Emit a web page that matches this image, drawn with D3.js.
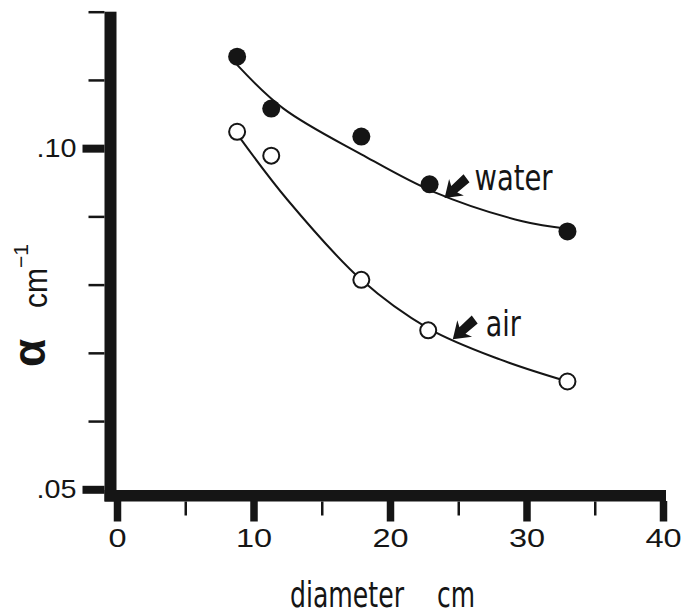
<!DOCTYPE html>
<html>
<head>
<meta charset="utf-8">
<script src="https://cdn.jsdelivr.net/npm/d3@7"></script>
<style>
  html, body { margin: 0; padding: 0; background: #fff; }
  svg { display: block; }
</style>
</head>
<body>
<svg id="chart" width="698" height="614"></svg>
<script>
// ---- data ----
const xTicksMajor = [0, 10, 20, 30, 40];
const xTicksMinor = [5, 15, 25, 35];
const yTicksMajor = [0.05, 0.10];
const yTicksMinor = [0.06, 0.07, 0.08, 0.09, 0.11, 0.12];
const yTickLabels = [".05", ".10"];

const waterDiam  = [8.8, 11.3, 17.9, 22.9, 33.0];
const waterAlpha = [0.1134, 0.1058, 0.1017, 0.0947, 0.0878];
const airDiam    = [8.8, 11.3, 17.9, 22.8, 33.0];
const airAlpha   = [0.1024, 0.0989, 0.0807, 0.0733, 0.0658];

// fitted curves as drawn in the figure
const waterFitDiam  = [8.8, 12.2, 17.9, 23.2, 29.7, 33.0];
const waterFitAlpha = [0.1122, 0.1058, 0.0991, 0.0936, 0.0893, 0.0882];
const airFitDiam    = [8.9, 12.5, 17.9, 22.8, 28.1, 33.0];
const airFitAlpha   = [0.1018, 0.0924, 0.0807, 0.0736, 0.0690, 0.0658];

// annotation arrow tips (data coords)
const labelNames = ["water", "air"];
const labelTipDiam  = [24.0, 24.6];
const labelTipAlpha = [0.0927, 0.0720];

// ---- drawing ----
const ink = "#151515";
const svg = d3.select("#chart");
const x = d3.scaleLinear().domain([0, 40]).range([117, 663]);
const y = d3.scaleLinear().domain([0.05, 0.12]).range([489.3, 11.7]);

const axisX0 = 104.5;      // left edge of the thick y axis bar
const axisYb = 501.5;      // bottom edge of the thick x axis bar

// thick axis bars
svg.append("rect").attr("x", axisX0).attr("y", y(0.12))
  .attr("width", 12).attr("height", axisYb - y(0.12)).attr("fill", ink);
svg.append("rect").attr("x", axisX0).attr("y", 490)
  .attr("width", x(40) + 3 - axisX0).attr("height", axisYb - 490).attr("fill", ink);

// y axis ticks
const gyMinor = svg.append("g").attr("transform", `translate(${axisX0},0)`)
  .call(d3.axisLeft(y).tickValues(yTicksMinor).tickSize(16).tickFormat(""));
gyMinor.select(".domain").remove();
gyMinor.selectAll(".tick line").attr("stroke", ink).attr("stroke-width", 2.5);

const gyMajor = svg.append("g").attr("transform", `translate(${axisX0},0)`)
  .call(d3.axisLeft(y).tickValues(yTicksMajor).tickSize(22).tickPadding(7)
    .tickFormat((d, i) => yTickLabels[i]));
gyMajor.select(".domain").remove();
gyMajor.selectAll(".tick line").attr("stroke", ink).attr("stroke-width", 8);
gyMajor.selectAll(".tick text")
  .attr("font-family", "'Liberation Sans', Arial, sans-serif")
  .attr("font-size", 25).attr("fill", ink)
  .attr("x", -28 / 1.15).attr("transform", "scale(1.15,1)");

// x axis ticks
const gxMinor = svg.append("g").attr("transform", `translate(0,${axisYb})`)
  .call(d3.axisBottom(x).tickValues(xTicksMinor).tickSize(14).tickFormat(""));
gxMinor.select(".domain").remove();
gxMinor.selectAll(".tick line").attr("stroke", ink).attr("stroke-width", 2.5);

const gxMajor = svg.append("g").attr("transform", `translate(0,${axisYb - 0.5})`)
  .call(d3.axisBottom(x).tickValues(xTicksMajor).tickSize(20.5).tickPadding(7.5)
    .tickFormat(d3.format("d")));
gxMajor.select(".domain").remove();
gxMajor.selectAll(".tick line").attr("stroke", ink).attr("stroke-width", 7.5);
gxMajor.selectAll(".tick text")
  .attr("font-family", "'Liberation Sans', Arial, sans-serif")
  .attr("font-size", 26).attr("fill", ink)
  .attr("transform", "scale(1.25,1)");

// fitted curves
const line = d3.line().x(d => x(d[0])).y(d => y(d[1])).curve(d3.curveCatmullRom.alpha(0.5));
const waterFit = waterFitDiam.map((d, i) => [d, waterFitAlpha[i]]);
const airFit = airFitDiam.map((d, i) => [d, airFitAlpha[i]]);
[waterFit, airFit].forEach(pts => {
  svg.append("path").attr("d", line(pts)).attr("fill", "none")
    .attr("stroke", ink).attr("stroke-width", 2);
});

// points
svg.append("g").selectAll("circle").data(waterDiam).join("circle")
  .attr("cx", d => x(d)).attr("cy", (d, i) => y(waterAlpha[i]))
  .attr("r", 9).attr("fill", ink);
svg.append("g").selectAll("circle").data(airDiam).join("circle")
  .attr("cx", d => x(d)).attr("cy", (d, i) => y(airAlpha[i]))
  .attr("r", 8).attr("fill", "#fff").attr("stroke", ink).attr("stroke-width", 2);

// annotation arrows + labels
const arrowPath = "M0,0 L16,-11 L13,-4.5 L30,-5 L29,5 L13,4.5 L16,11 Z";
const labelDx = [30, 33], labelDy = [-8, -3], labelW = [78, 35];
labelNames.forEach((name, i) => {
  const tx = x(labelTipDiam[i]), ty = y(labelTipAlpha[i]);
  svg.append("path").attr("d", arrowPath)
    .attr("transform", `translate(${tx},${ty}) rotate(-42)`).attr("fill", ink);
  svg.append("text").attr("x", tx + labelDx[i]).attr("y", ty + labelDy[i])
    .attr("font-family", "'Liberation Sans Narrow', 'DejaVu Sans Condensed', 'Liberation Sans', sans-serif")
    .attr("font-size", 36).attr("fill", ink)
    .attr("textLength", labelW[i]).attr("lengthAdjust", "spacingAndGlyphs")
    .text(name);
});

// axis titles
const condensed = "'Liberation Sans Narrow', 'DejaVu Sans Condensed', 'Liberation Sans', sans-serif";
svg.append("text").attr("x", 290).attr("y", 607)
  .attr("font-family", condensed).attr("font-size", 36).attr("fill", ink)
  .attr("textLength", 114).attr("lengthAdjust", "spacingAndGlyphs").text("diameter");
svg.append("text").attr("x", 437).attr("y", 607)
  .attr("font-family", condensed).attr("font-size", 36).attr("fill", ink)
  .attr("textLength", 38).attr("lengthAdjust", "spacingAndGlyphs").text("cm");

const gt = svg.append("g").attr("transform", "rotate(-90)");
gt.append("text").attr("x", -367).attr("y", 45)
  .attr("font-family", "'Liberation Sans', Arial, sans-serif").attr("font-weight", "bold")
  .attr("font-size", 46).attr("fill", ink).text("α");
gt.append("text").attr("x", -308).attr("y", 47)
  .attr("font-family", "'Liberation Sans', Arial, sans-serif")
  .attr("font-size", 33).attr("fill", ink)
  .attr("textLength", 40).attr("lengthAdjust", "spacingAndGlyphs").text("cm");
gt.append("text").attr("x", -268).attr("y", 28)
  .attr("font-family", "'Liberation Sans', Arial, sans-serif")
  .attr("font-size", 21).attr("fill", ink).text("−1");
</script>
</body>
</html>
